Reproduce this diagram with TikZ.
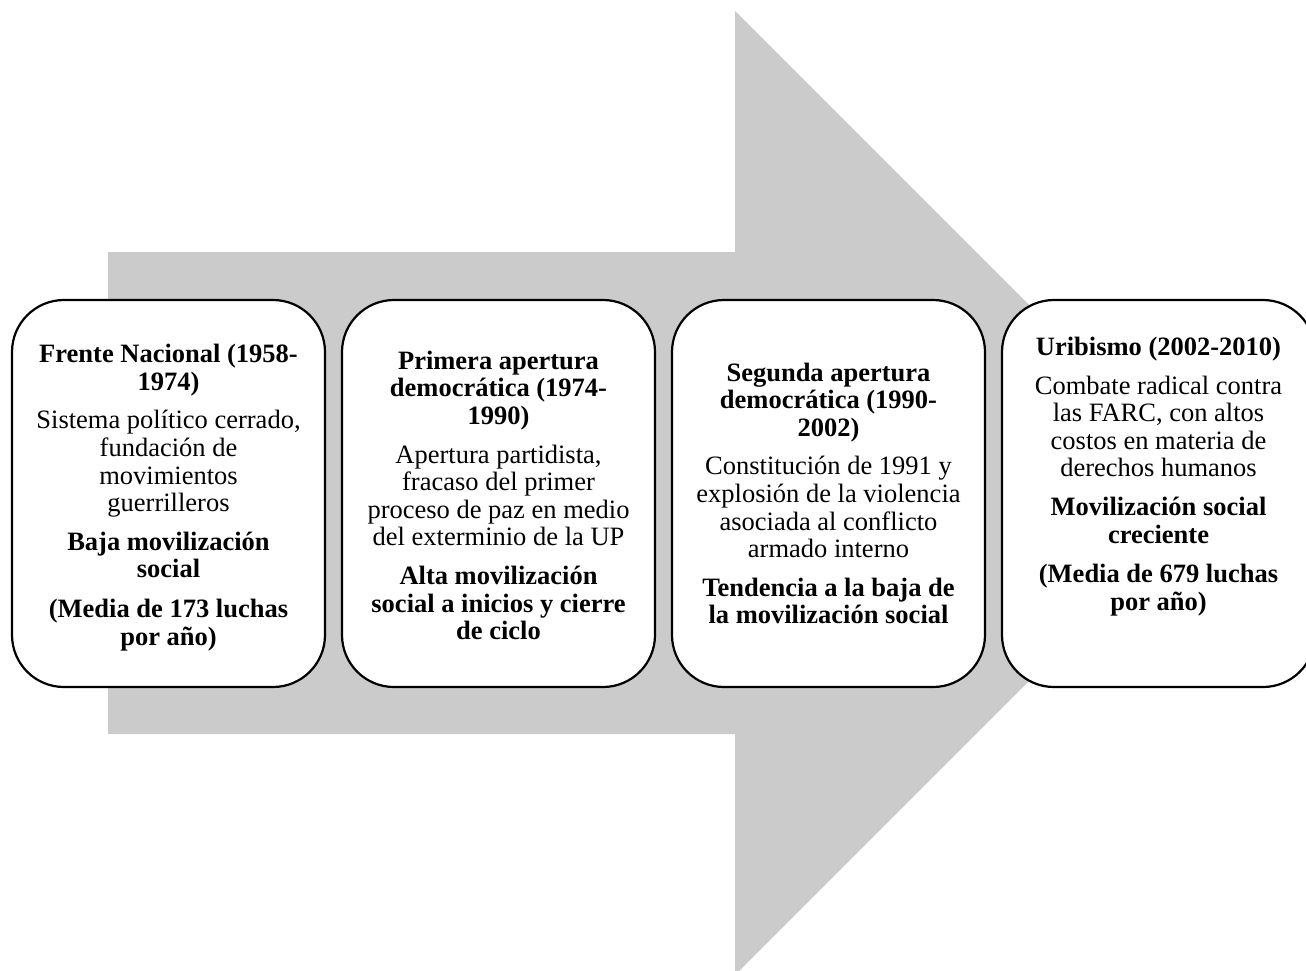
\documentclass[tikz,border=0pt]{standalone}
\usepackage{fontspec}
\setmainfont{Liberation Serif}
\definecolor{arrowgray}{RGB}{203,203,203}
\begin{document}
\begin{tikzpicture}[x=1pt,y=-1pt,
  stage/.style={draw=black, line width=2.2pt, fill=white, rounded corners=52pt,
    minimum width=313pt, minimum height=387pt, inner sep=0pt},
  stagetext/.style={align=center, inner sep=0pt,
    font=\fontsize{26.5}{27.6}\selectfont}]
  \useasboundingbox (0,0) rectangle (1306,970);
  \clip (0,0) rectangle (1306,970);

  % broad gray block arrow behind the stages
  \fill[arrowgray] (108,252) -- (735,252) -- (735,11) -- (1217,493)
    -- (735,975) -- (735,734) -- (108,734) -- cycle;

  % stage boxes
  \node[stage] (s1) at (168.5,493.5) {};
  \node[stage] (s2) at (498.5,493.5) {};
  \node[stage] (s3) at (828.5,493.5) {};
  \node[stage] (s4) at (1158.5,493.5) {};

  % stage texts (yshift is measured upwards on the page)
  \node[stagetext] (t1) at ([yshift=-4pt]s1.center) {%
    \textbf{Frente Nacional (1958-}\\
    \textbf{1974)}\\[11pt]
    Sistema político cerrado,\\
    fundación de\\
    movimientos\\
    guerrilleros\\[11pt]
    \textbf{Baja movilización}\\
    \textbf{social}\\[12pt]
    \textbf{(Media de 173 luchas}\\
    \textbf{por año)}};

  \node[stagetext] (t2) at ([yshift=-2pt]s2.center) {%
    \textbf{Primera apertura}\\
    \textbf{democrática (1974-}\\
    \textbf{1990)}\\[11pt]
    Apertura partidista,\\
    fracaso del primer\\
    proceso de paz en medio\\
    del exterminio de la UP\\[11pt]
    \textbf{Alta movilización}\\
    \textbf{social a inicios y cierre}\\
    \textbf{de ciclo}};

  \node[stagetext] (t3) at (s3.center) {%
    \textbf{Segunda apertura}\\
    \textbf{democrática (1990-}\\
    \textbf{2002)}\\[11pt]
    Constitución de 1991 y\\
    explosión de la violencia\\
    asociada al conflicto\\
    armado interno\\[11pt]
    \textbf{Tendencia a la baja de}\\
    \textbf{la movilización social}};

  \node[stagetext] (t4) at ([yshift=17pt]s4.center) {%
    \textbf{Uribismo (2002-2010)}\\[11pt]
    Combate radical contra\\
    las FARC, con altos\\
    costos en materia de\\
    derechos humanos\\[11pt]
    \textbf{Movilización social}\\
    \textbf{creciente}\\[12pt]
    \textbf{(Media de 679 luchas}\\
    \textbf{por año)}};
\end{tikzpicture}
\end{document}
